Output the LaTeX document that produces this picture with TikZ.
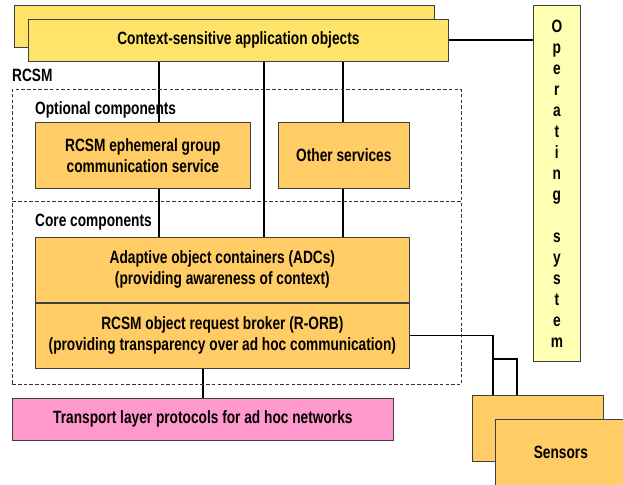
\documentclass[tikz,border=0pt]{standalone}
\usepackage{fontspec}
\setmainfont{Liberation Sans}[FakeStretch=0.77]
\usepackage{tikz}
\definecolor{appyellow}{RGB}{255,228,105}
\definecolor{osyellow}{RGB}{255,255,180}
\definecolor{comporange}{RGB}{255,204,102}
\definecolor{transportpink}{RGB}{255,153,204}
\tikzset{
     box/.style={draw=black!75,line width=0.7pt,inner sep=0pt,anchor=north west,align=center},
     appbox/.style={box,fill=appyellow,minimum width=420pt,minimum height=42pt},
     compbox/.style={box,fill=comporange},
     group/.style={draw=black!80,line width=0.7pt,dash pattern=on 3.5pt off 2.2pt,inner sep=0pt,anchor=north west},
     grouplabel/.style={anchor=base west,inner sep=0pt},
     link/.style={line width=1.8pt}
     }
\usetikzlibrary{positioning,backgrounds}

\begin{document}
\begin{tikzpicture}[x=1pt,y=-1pt,font=\fontsize{17.8}{21}\selectfont\bfseries]
            \useasboundingbox (0,0) rectangle (623,484);
            \clip (0,0) rectangle (623,484);
            % Place nodes
            \node[appbox] (appback) at (14,5) {};
            \node[appbox] (app) at (28,19) {Context-sensitive application objects};
            \node[box,fill=osyellow,minimum width=47pt,minimum height=356pt] (os) at (533,5) {O\\p\\e\\r\\a\\t\\i\\n\\g\\[21pt]s\\y\\s\\t\\e\\m};
            \node[grouplabel] (rcsm) at (12,82) {RCSM};
            \node[group,minimum width=449pt,minimum height=112pt] (optional) at (12,89) {};
            \node[group,minimum width=449pt,minimum height=183pt] (core) at (12,201) {};
            \node[grouplabel] (optlabel) at (35,114) {Optional components};
            \node[grouplabel] (corelabel) at (35,226) {Core components};
            \node[compbox,minimum width=215pt,minimum height=66pt] (ephemeral) at (35,122) {RCSM ephemeral group\\communication service};
            \node[compbox,minimum width=131pt,minimum height=66pt] (other) at (278,122) {Other services};
            \node[compbox,minimum width=374pt,minimum height=65pt] (adc) at (35,237) {Adaptive object containers (ADCs)\\(providing awareness of context)};
            \node[compbox,minimum width=374pt,minimum height=65pt,below=0pt of adc] (orb) {RCSM object request broker (R-ORB)\\(providing transparency over ad hoc communication)};
            \node[box,fill=transportpink,minimum width=381pt,minimum height=42pt] (transport) at (12,398) {Transport layer protocols for ad hoc networks};
            \node[compbox,minimum width=131pt,minimum height=66pt] (sensorsback) at (472,395) {};
            \node[compbox,minimum width=131pt,minimum height=66pt] (sensors) at (495,419) {Sensors};
            % Draw edges
            \coordinate (busA) at (159,0);
            \coordinate (busB) at (264,0);
            \coordinate (busC) at (343,0);
            \coordinate (tapA) at (493,0);
            \coordinate (tapB) at (517,359);
            \begin{pgfonlayer}{background}
            \draw[link] (app.south -| busA) -- (ephemeral.north -| busA);
            \draw[link] (ephemeral.south -| busA) -- (adc.north -| busA);
            \draw[link] (app.south -| busB) -- (adc.north -| busB);
            \draw[link] (app.south -| busC) -- (other.north -| busC);
            \draw[link] (other.south -| busC) -- (adc.north -| busC);
            \draw[link] (app.east) -- (os.west |- app.east);
            \draw[link] (orb.south -| transport.north) -- (transport.north);
            \draw[link] (orb.east) -| (sensorsback.north -| tapA);
            \draw[link] (tapA |- tapB) -| (sensorsback.north -| tapB);
            \end{pgfonlayer}
\end{tikzpicture}
\end{document}
